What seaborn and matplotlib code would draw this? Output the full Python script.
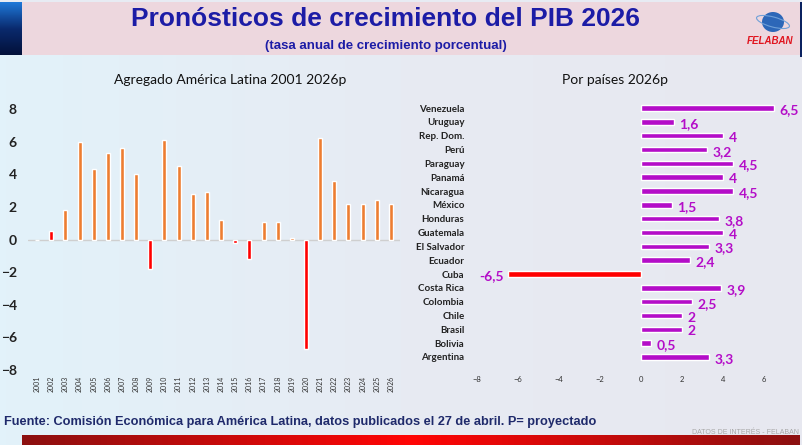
import numpy as np
import pandas as pd
import matplotlib.pyplot as plt
from matplotlib.colors import LinearSegmentedColormap
from matplotlib.patches import Rectangle, Ellipse
import seaborn as sns

# Datos: crecimiento anual del PIB, agregado America Latina
years = [str(y) for y in range(2001, 2027)]
agg_growth = [0.0, 0.5, 1.8, 6.0, 4.3, 5.3, 5.6, 4.0, -1.8, 6.1, 4.5, 2.8, 2.9,
              1.2, -0.2, -1.2, 1.1, 1.1, 0.1, -6.7, 6.2, 3.6, 2.2, 2.2, 2.4, 2.2]
red_years = ['2002', '2009', '2015', '2016', '2020']

# Pronostico 2026 por pais
countries = ['Venezuela', 'Uruguay', 'Rep. Dom.', 'Perú', 'Paraguay', 'Panamá',
             'Nicaragua', 'México', 'Honduras', 'Guatemala', 'El Salvador',
             'Ecuador', 'Cuba', 'Costa Rica', 'Colombia', 'Chile', 'Brasil',
             'Bolivia', 'Argentina']
country_growth = [6.5, 1.6, 4, 3.2, 4.5, 4, 4.5, 1.5, 3.8, 4, 3.3, 2.4, -6.5,
                  3.9, 2.5, 2, 2, 0.5, 3.3]

ORANGE = '#ED7D31'
RED = '#FF0000'
PURPLE = '#B40DC8'
NAVY = '#1C1CA6'

sns.set_style('white')
plt.rcParams['font.family'] = ['Lato', 'DejaVu Sans']

fig = plt.figure(figsize=(8.03, 4.45), dpi=100)
fig.patch.set_facecolor('#E7EBF3')

# decoracion de fondo en coordenadas de pixel
bg = fig.add_axes([0, 0, 1, 1])
bg.set_xlim(0, 803)
bg.set_ylim(445, 0)
bg.axis('off')
tint = np.linspace(0, 1, 128).reshape(1, -1)
bg.imshow(tint, extent=[0, 803, 445, 55], aspect='auto',
          cmap=LinearSegmentedColormap.from_list('t', ['#E2F2FA', '#E7EBF3', '#E7E8F0']))
bg.add_patch(Rectangle((22, 2), 778, 53, color='#EDD7DE', lw=0))
blue_grad = np.linspace(0, 1, 64).reshape(-1, 1)
bg.imshow(blue_grad, extent=[0, 22, 55, 2], aspect='auto',
          cmap=LinearSegmentedColormap.from_list('b', ['#1E78D8', '#0A2A6E', '#03113A']))
bg.add_patch(Rectangle((800, 2), 3, 55, color='#0B2260', lw=0))
red_grad = np.concatenate([np.linspace(0, 1, 64), np.linspace(1, 0, 64)]).reshape(1, -1)
bg.imshow(red_grad, extent=[22, 800, 445, 435], aspect='auto',
          cmap=LinearSegmentedColormap.from_list('r', ['#8C1010', '#FF0505']))
bg.add_patch(Ellipse((773, 22), 22, 20, color='#2C67B8', lw=0))
bg.add_patch(Ellipse((773, 22), 34, 10, fill=False, ec='#6FA0D8', lw=0.8, angle=15))
bg.text(770, 41, 'FELABAN', color='#E0141E', fontsize=7, fontweight='bold',
        style='italic', ha='center', va='center', family=['Liberation Sans', 'DejaVu Sans'])
bg.set_zorder(-1)

fig.text(0.48, 1 - 19.5 / 445, 'Pronósticos de crecimiento del PIB 2026', color=NAVY,
         fontsize=19, fontweight='bold', ha='center', va='center',
         family=['Liberation Sans', 'DejaVu Sans'])
fig.text(0.48, 1 - 46 / 445, '(tasa anual de crecimiento porcentual)', color=NAVY,
         fontsize=9.5, fontweight='bold', ha='center', va='center',
         family=['Liberation Sans', 'DejaVu Sans'])
fig.text(230 / 803, 1 - 80 / 445, 'Agregado América Latina 2001 2026p', fontsize=10,
         ha='center', va='center', color='#111111')
fig.text(615 / 803, 1 - 80 / 445, 'Por países 2026p', fontsize=10,
         ha='center', va='center', color='#111111')
fig.text(4 / 803, 1 - 422 / 445,
         'Fuente: Comisión Económica para América Latina, datos publicados el 27 de abril. P= proyectado',
         fontsize=9.2, fontweight='bold', color='#1F2A6B', ha='left', va='center',
         family=['Liberation Sans Narrow', 'Liberation Sans', 'DejaVu Sans'])
fig.text(799 / 803, 1 - 432 / 445, 'DATOS DE INTERÉS - FELABAN', fontsize=5,
         color='#A8A8A8', ha='right', va='center',
         family=['Liberation Sans Narrow', 'Liberation Sans', 'DejaVu Sans'])

# Panel izquierdo
df_agg = pd.DataFrame({'year': years, 'growth': agg_growth})
pal_agg = {y: (RED if y in red_years else ORANGE) for y in years}
ax1 = fig.add_axes([28 / 803, 1 - 370 / 445, 372 / 803, 261 / 445])
ax1.patch.set_alpha(0)
sns.barplot(data=df_agg, x='year', y='growth', hue='year', palette=pal_agg,
            width=0.28, legend=False, saturation=1, ax=ax1, zorder=3)
ax1.axhline(0, color='#CFCFCF', lw=1, zorder=2)
ax1.set_xlim(-0.64, 25.64)
ax1.set_ylim(-8, 8)
ax1.set_yticks(range(-8, 9, 2))
ax1.tick_params(axis='y', length=0, pad=8, labelsize=10, labelcolor='#222222')
ax1.tick_params(axis='x', length=0, pad=4, labelsize=5, rotation=90, labelcolor='#333333')
for lab in ax1.get_yticklabels():
    lab.set_fontweight('bold')
ax1.set_xlabel('')
ax1.set_ylabel('')
sns.despine(ax=ax1, left=True, bottom=True)

# Panel derecho
df_c = pd.DataFrame({'country': countries, 'growth': country_growth})
pal_c = {c: (RED if g < 0 else PURPLE) for c, g in zip(countries, country_growth)}
ax2 = fig.add_axes([477 / 803, 1 - 365.3 / 445, 328 / 803, 265.6 / 445])
ax2.patch.set_alpha(0)
sns.barplot(data=df_c, x='growth', y='country', hue='country', order=countries,
            palette=pal_c, width=0.4, legend=False, saturation=1, ax=ax2, orient='h')
ax2.set_xlim(-8, 8)
ax2.set_ylim(18.6, -0.6)
ax2.set_xticks(range(-8, 7, 2))
ax2.tick_params(axis='x', length=0, pad=8, labelsize=5.5, labelcolor='#333333')
ax2.tick_params(axis='y', length=0, pad=9, labelsize=7, labelcolor='#222222')
for lab in ax2.get_yticklabels():
    lab.set_fontweight('bold')
for i, g in enumerate(country_growth):
    txt = f'{g:g}'.replace('.', ',')
    if g >= 0:
        ax2.annotate(txt, (g, i), xytext=(4, -1.5), textcoords='offset points',
                     ha='left', va='center', fontsize=10, fontweight='bold', color=PURPLE)
    else:
        ax2.annotate(txt, (g, i), xytext=(-3, -1.5), textcoords='offset points',
                     ha='right', va='center', fontsize=10, fontweight='bold', color=PURPLE)
ax2.set_xlabel('')
ax2.set_ylabel('')
sns.despine(ax=ax2, left=True, bottom=True)

fig.savefig('out.png', dpi=100, facecolor=fig.get_facecolor())
